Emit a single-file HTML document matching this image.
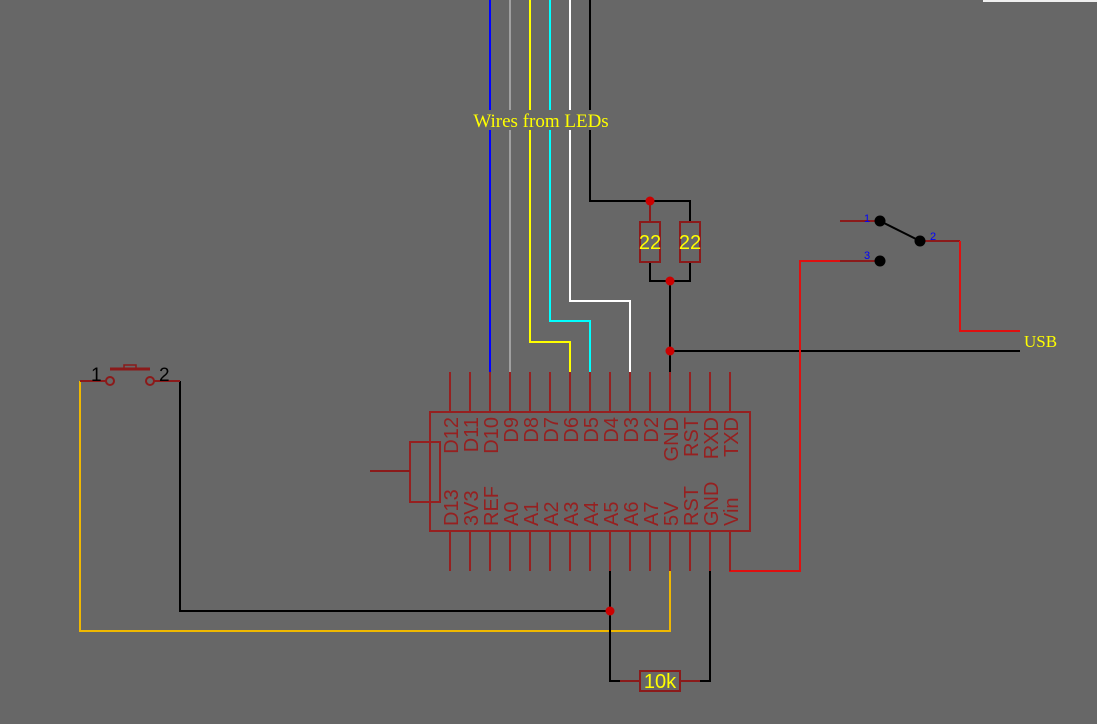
<!DOCTYPE html>
<html><head><style>body{margin:0;background:#676767}svg{display:block}</style></head>
<body>
<svg width="1097" height="724" viewBox="0 0 1097 724" xmlns="http://www.w3.org/2000/svg" font-family="Liberation Sans, sans-serif">
<rect width="1097" height="724" fill="#676767"/>
<rect x="983" y="0" width="114" height="2" fill="#f0f0f0"/>
<g fill="none" stroke-width="2">
<path d="M490 0V110M490 130V372" stroke="#0000ff"/>
<path d="M510 0V110M510 130V372" stroke="#a0a0a0"/>
<path d="M530 0V110M530 130V342H570V372" stroke="#ffff00"/>
<path d="M550 0V110M550 130V321H590V372" stroke="#00ffff"/>
<path d="M570 0V110M570 130V301H630V372" stroke="#ffffff"/>
<path d="M590 0V110M590 130V201H690V222" stroke="#000"/>
<path d="M650 262V281H690V262M670 281V372M670 351H1020" stroke="#000"/>
<path d="M840 221H880M920 241H960M840 261H880" stroke="#8b1a1a"/>
<path d="M880 221L920 241" stroke="#000"/>
<path d="M960 241V331H1020" stroke="#e01010"/>
<path d="M840 261H800V571H730V531" stroke="#e01010"/>
<path d="M80 381V631H670V571" stroke="#f0b800"/>
<path d="M180 381V611H610" stroke="#000"/>
<path d="M610 571V681H620M700 681H710V571" stroke="#000"/>
<path d="M620 681H640M680 681H700" stroke="#8b1a1a"/>
<path d="M80 381H106M154 381H180" stroke="#8b1a1a"/>
<path d="M110 369H150" stroke="#8b1a1a" stroke-width="3"/>
<rect x="124" y="365" width="12" height="4" stroke="#8b1a1a" stroke-width="1.5"/>
<circle cx="110" cy="381" r="4" stroke="#8b1a1a"/>
<circle cx="150" cy="381" r="4" stroke="#8b1a1a"/>
<path d="M650 201V222" stroke="#8b1a1a"/>
<rect x="640" y="222" width="20" height="40" stroke="#8b1a1a"/>
<rect x="680" y="222" width="20" height="40" stroke="#8b1a1a"/>
<rect x="640" y="671" width="40" height="20" stroke="#8b1a1a"/>
<rect x="430" y="412" width="320" height="119" stroke="#962020"/>
<rect x="410" y="442" width="30" height="60" stroke="#962020"/>
<path d="M370 471H410" stroke="#8b1a1a"/>
<path stroke="#962020" d="M450 372V412M470 372V412M490 372V412M510 372V412M530 372V412M550 372V412M570 372V412M590 372V412M610 372V412M630 372V412M650 372V412M670 372V412M690 372V412M710 372V412M730 372V412
M450 531V571M470 531V571M490 531V571M510 531V571M530 531V571M550 531V571M570 531V571M590 531V571M610 531V571M630 531V571M650 531V571M670 531V571M690 531V571M710 531V571M730 531V571"/>
</g>
<g fill="#cc0000">
<circle cx="650" cy="201" r="4.5"/><circle cx="670" cy="281" r="4.5"/><circle cx="670" cy="351" r="4.5"/><circle cx="610" cy="611" r="4.5"/>
</g>
<g fill="#000"><circle cx="880" cy="221" r="5.5"/><circle cx="920" cy="241" r="5.5"/><circle cx="880" cy="261" r="5.5"/></g>
<g fill="#0000ff" font-size="11"><text x="864" y="222">1</text><text x="930" y="240">2</text><text x="864" y="259">3</text></g>
<g fill="#ffff00" font-size="20" text-anchor="middle"><text x="650" y="249">22</text><text x="690" y="249">22</text><text x="660" y="688">10k</text></g>
<text x="541" y="127" fill="#ffff00" font-family="Liberation Serif, serif" font-size="19" text-anchor="middle">Wires from LEDs</text>
<text x="1024" y="347" fill="#ffff00" font-family="Liberation Serif, serif" font-size="17">USB</text>
<g fill="#000" font-size="19"><text x="91" y="381">1</text><text x="159" y="381">2</text></g>
<g fill="#962020" font-size="20" text-anchor="end">
<text transform="translate(458,417) rotate(-90)">D12</text>
<text transform="translate(478,417) rotate(-90)">D11</text>
<text transform="translate(498,417) rotate(-90)">D10</text>
<text transform="translate(518,417) rotate(-90)">D9</text>
<text transform="translate(538,417) rotate(-90)">D8</text>
<text transform="translate(558,417) rotate(-90)">D7</text>
<text transform="translate(578,417) rotate(-90)">D6</text>
<text transform="translate(598,417) rotate(-90)">D5</text>
<text transform="translate(618,417) rotate(-90)">D4</text>
<text transform="translate(638,417) rotate(-90)">D3</text>
<text transform="translate(658,417) rotate(-90)">D2</text>
<text transform="translate(678,417) rotate(-90)">GND</text>
<text transform="translate(698,417) rotate(-90)">RST</text>
<text transform="translate(718,417) rotate(-90)">RXD</text>
<text transform="translate(738,417) rotate(-90)">TXD</text>
</g>
<g fill="#962020" font-size="20" text-anchor="start">
<text transform="translate(458,526) rotate(-90)">D13</text>
<text transform="translate(478,526) rotate(-90)">3V3</text>
<text transform="translate(498,526) rotate(-90)">REF</text>
<text transform="translate(518,526) rotate(-90)">A0</text>
<text transform="translate(538,526) rotate(-90)">A1</text>
<text transform="translate(558,526) rotate(-90)">A2</text>
<text transform="translate(578,526) rotate(-90)">A3</text>
<text transform="translate(598,526) rotate(-90)">A4</text>
<text transform="translate(618,526) rotate(-90)">A5</text>
<text transform="translate(638,526) rotate(-90)">A6</text>
<text transform="translate(658,526) rotate(-90)">A7</text>
<text transform="translate(678,526) rotate(-90)">5V</text>
<text transform="translate(698,526) rotate(-90)">RST</text>
<text transform="translate(718,526) rotate(-90)">GND</text>
<text transform="translate(738,526) rotate(-90)">Vin</text>
</g>
</svg>
</body></html>
